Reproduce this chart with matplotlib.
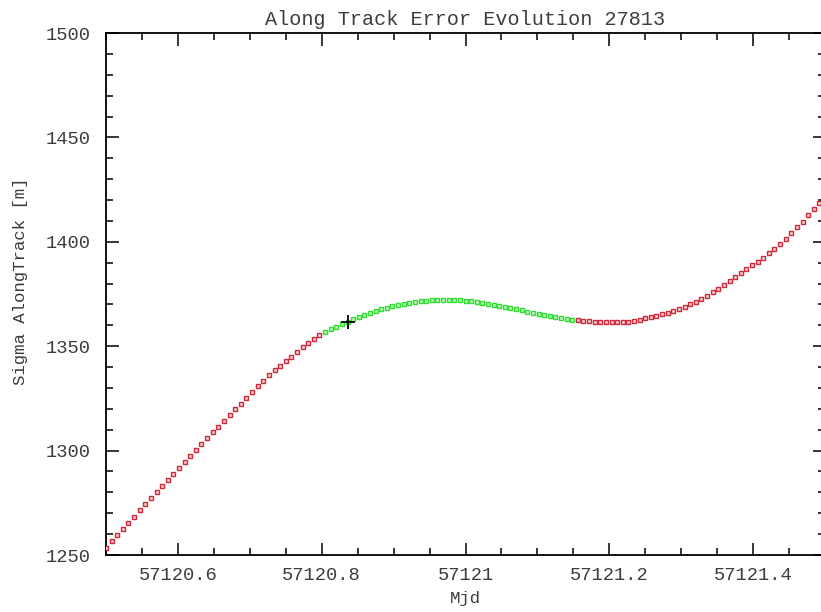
import numpy as np
import matplotlib
matplotlib.use("Agg")
import matplotlib.pyplot as plt
from matplotlib.ticker import MultipleLocator, FuncFormatter

# Orbit 27813: along-track sigma sampled on a regular grid of epochs
mjd_start = 57120.5
mjd_step = 1.0 / 128.0
sigma_along = [
    1253.5, 1256.5, 1259.5, 1262.5, 1265.5, 1268.4, 1271.4, 1274.3,
    1277.2, 1280.1, 1283.0, 1285.9, 1288.8, 1291.7, 1294.5, 1297.4,
    1300.2, 1303.0, 1305.9, 1308.7, 1311.5, 1314.3, 1317.0, 1319.8,
    1322.5, 1325.3, 1328.0, 1330.9, 1333.5, 1336.0, 1338.4, 1340.6,
    1342.8, 1345.0, 1347.1, 1349.5, 1351.6, 1353.5, 1355.2, 1356.7,
    1358.0, 1359.3, 1360.5, 1361.7, 1362.8, 1363.9, 1364.9, 1365.8,
    1366.8, 1367.7, 1368.5, 1369.2, 1369.8, 1370.3, 1370.8, 1371.2,
    1371.5, 1371.7, 1371.9, 1372.0, 1372.1, 1372.1, 1372.1, 1372.0,
    1371.8, 1371.5, 1371.1, 1370.6, 1370.1, 1369.6, 1369.1, 1368.6,
    1368.1, 1367.6, 1367.1, 1366.6, 1366.0, 1365.5, 1364.9, 1364.4,
    1363.9, 1363.5, 1363.1, 1362.7, 1362.4, 1362.1, 1361.9, 1361.7,
    1361.6, 1361.5, 1361.4, 1361.4, 1361.5, 1361.7, 1362.1, 1362.6,
    1363.3, 1363.9, 1364.55, 1365.25, 1366.05, 1366.95, 1367.95, 1369.0,
    1370.15, 1371.4, 1372.75, 1374.25, 1375.85, 1377.55, 1379.35, 1381.25,
    1383.15, 1385.05, 1386.95, 1388.85, 1390.3, 1392.3, 1394.4, 1396.6,
    1398.9, 1401.45, 1404.1, 1406.85, 1409.7, 1412.65, 1415.65, 1418.7,
    1421.8,
]
mjd = mjd_start + mjd_step * np.arange(len(sigma_along))
sigma = np.array(sigma_along)

# Fit span (green) and the reference epoch (cross)
fit_start, fit_end = 57120.803, 57121.155
epoch_mjd, epoch_sigma = 57120.8359, 1361.7

x_ticks = [57120.6, 57120.8, 57121.0, 57121.2, 57121.4]
y_ticks = [1250, 1300, 1350, 1400, 1450, 1500]

W, H = 821, 612
fig = plt.figure(figsize=(W / 100, H / 100), dpi=100)
left, right, top, bottom = 106, 825, 33, 555
ax = fig.add_axes([left / W, 1 - bottom / H, (right - left) / W, (bottom - top) / H])

font = "Liberation Mono"
txt = "#3c3c3c"

in_fit = (mjd >= fit_start) & (mjd <= fit_end)
ax.plot(mjd[~in_fit], sigma[~in_fit], ls="none", marker="s", ms=3.2,
        mec="#d02a3a", mfc="#f6d0d4", mew=1.0, zorder=3)
ax.plot(mjd[in_fit], sigma[in_fit], ls="none", marker="s", ms=3.2,
        mec="#33dd33", mfc="#c0f6c0", mew=1.0, zorder=3)
ax.plot([epoch_mjd], [epoch_sigma], ls="none", marker="+", ms=10,
        mec="black", mew=1.3, zorder=4)

ax.set_xlim(57120.5, 57121.5)
ax.set_ylim(1250, 1500)
ax.set_xticks(x_ticks)
ax.set_yticks(y_ticks)
ax.xaxis.set_minor_locator(MultipleLocator(0.05))
ax.yaxis.set_minor_locator(MultipleLocator(10))
ax.xaxis.set_major_formatter(FuncFormatter(lambda v, p: f"{v:.10g}"))
ax.yaxis.set_major_formatter(FuncFormatter(lambda v, p: f"{v:.0f}"))

ax.tick_params(which="both", direction="in", top=True, right=True,
               color="black", width=1.1)
ax.tick_params(which="major", length=9)
ax.tick_params(which="minor", length=5)
ax.tick_params(axis="x", which="major", pad=9, labelsize=13.5, labelcolor=txt)
ax.tick_params(axis="y", which="major", pad=11, labelsize=13.5, labelcolor=txt)
for lab in ax.get_xticklabels() + ax.get_yticklabels():
    lab.set_family(font)

for sp in ax.spines.values():
    sp.set_linewidth(1.3)
    sp.set_color("black")

ax.set_title("Along Track Error Evolution 27813", family=font, fontsize=14.5,
             color=txt, pad=6)
ax.set_xlabel("Mjd", family=font, fontsize=12.5, color=txt)
ax.xaxis.set_label_coords(0.5, -(598 - bottom) / (bottom - top))
ax.xaxis.label.set_va("center")
ax.set_ylabel("Sigma AlongTrack [m]", family=font, fontsize=12.5, color=txt)
ax.yaxis.set_label_coords((21 - left) / (right - left), (bottom - 281) / (bottom - top))
ax.yaxis.label.set_va("center")

fig.savefig("out.png", dpi=100)
